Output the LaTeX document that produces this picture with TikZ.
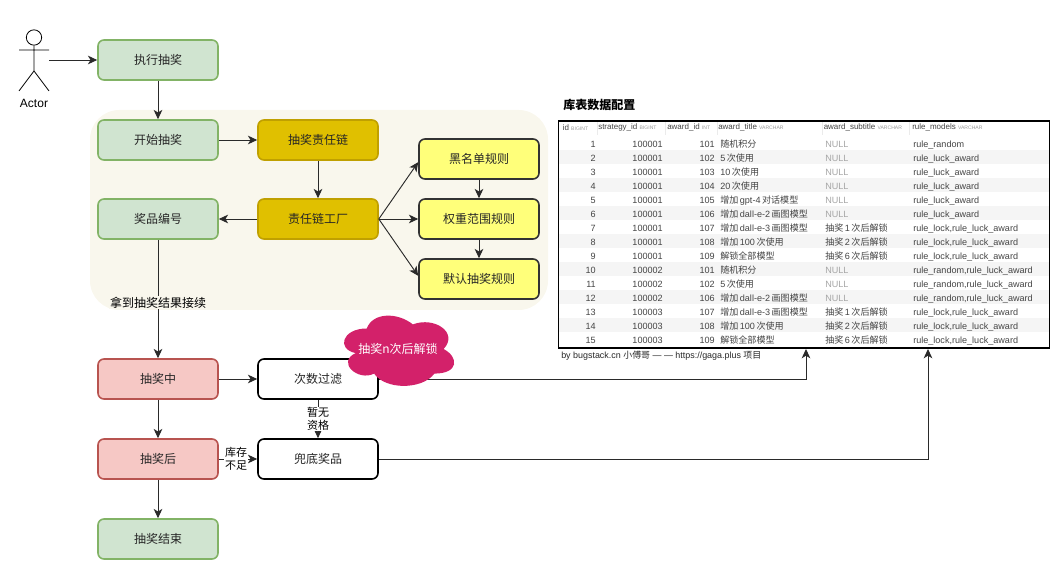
\documentclass[tikz,border=0pt]{standalone}
\usepackage{fontspec}
\setmainfont{Liberation Sans}
\newfontfamily\cjk{Noto Sans CJK SC}
\usetikzlibrary{arrows.meta}
\definecolor{greenfill}{HTML}{D0E4D0}
\definecolor{greenline}{HTML}{82B366}
\definecolor{redfill}{HTML}{F6C8C5}
\definecolor{redline}{HTML}{B85450}
\definecolor{goldfill}{HTML}{E0C000}
\definecolor{goldline}{HTML}{C0A000}
\definecolor{rulefill}{HTML}{FFFF7A}
\definecolor{ruleline}{HTML}{333333}
\definecolor{panelfill}{HTML}{F9F7ED}
\definecolor{cloudfill}{HTML}{D3216A}
\definecolor{rowfill}{HTML}{F5F5F5}
\definecolor{celltext}{HTML}{444444}
\definecolor{linegray}{HTML}{2A2A2A}
\newcommand{\zh}[1]{{\cjk #1}}
\newcommand{\luck}{rule\_luck\_award}
\newcommand{\lockluck}{rule\_lock,rule\_luck\_award}
\newcommand{\randluck}{rule\_random,rule\_luck\_award}
\newcommand{\nullcell}{{\color{black!35}NULL}}
\newcommand{\headcell}[2]{#1 {\fontsize{3.8}{4}\selectfont\color{black!40}#2}}
\begin{document}
\begin{tikzpicture}[
  x=.75pt, y=-.75pt,
  font=\cjk\fontsize{9}{11}\selectfont,
  box/.style={draw, rounded corners=4.5pt, line width=1.2pt, minimum width=90pt, minimum height=30pt, inner sep=0pt, text=black!85},
  greenbox/.style={box, draw=greenline, fill=greenfill},
  redbox/.style={box, draw=redline, fill=redfill},
  goldbox/.style={box, draw=goldline, fill=goldfill},
  rulebox/.style={box, draw=ruleline, fill=rulefill},
  plainbox/.style={box, fill=white},
  flow/.style={-{Stealth[length=7pt,width=6.5pt,inset=2pt]}, line width=.7pt, draw=linegray},
  edgetext/.style={fill=white, inner sep=.5pt, font=\cjk\fontsize{8.25}{10}\selectfont, align=center},
  cell/.style={inner sep=0pt, text=celltext, text height=5pt, text depth=1.5pt, font=\fontsize{6.8}{8}\selectfont},
  headtext/.style={inner sep=0pt, anchor=west, text=celltext, font=\fontsize{6}{7}\selectfont}]
  \useasboundingbox (0,0) rectangle (1058,573);
  \fill[panelfill, rounded corners=22pt] (90,110) rectangle (548,310);

  % actor
  \node (actorhead) [circle, draw, line width=.6pt, minimum size=11.5pt, inner sep=0pt] at (34,37.5) {};
  \coordinate (actorhip) at (34,71);
  \coordinate (actorleft) at (19,50);
  \coordinate (actorright) at (49,50);
  \coordinate (actorhand) at (49,60);
  \coordinate (actorfoot1) at (19,91);
  \coordinate (actorfoot2) at (49,91);
  \draw[line width=.6pt] (actorhead) -- (actorhip) (actorleft) -- (actorright) (actorfoot1) -- (actorhip) -- (actorfoot2);
  \node (actor) [font=\fontsize{9}{10}\selectfont, inner sep=0pt] at (34,103) {Actor};

  % left column
  \node (run) [greenbox] at (158,60) {执行抽奖};
  \node (start) [greenbox] at (158,140) {开始抽奖};
  \node (awardno) [greenbox] at (158,219) {奖品编号};
  \node (during) [redbox] at (158,379) {抽奖中};
  \node (after) [redbox] at (158,459) {抽奖后};
  \node (finish) [greenbox] at (158,539) {抽奖结束};

  % chain
  \node (chain) [goldbox] at (318,140) {抽奖责任链};
  \node (factory) [goldbox] at (318,219) {责任链工厂};
  \node (black) [rulebox] at (479,159) {黑名单规则};
  \node (weight) [rulebox] at (479,219) {权重范围规则};
  \node (default) [rulebox] at (479,279) {默认抽奖规则};

  % filters
  \node (filter) [plainbox] at (318,379) {次数过滤};
  \node (fallback) [plainbox] at (318,459) {兜底奖品};

  % table
  \node (tabletitle) [anchor=west, inner sep=0pt, font=\cjk\bfseries\fontsize{9}{11}\selectfont] at (563,105) {库表数据配置};
  \foreach \rowno in {2,4,...,14}
    \fill[rowfill] (559,122.5+14*\rowno) rectangle (1049,136.5+14*\rowno);
  \foreach \sepx in {597,665,717,822,909}
    \draw[black!8, line width=.4pt] (\sepx,121) -- (\sepx,135);
  \node (hid) [headtext] at (562.5,127.5) {\headcell{id}{BIGINT}};
  \node (hstrategy) [headtext] at (598,127.5) {\headcell{strategy\_id}{BIGINT}};
  \node (haward) [headtext] at (667,127.5) {\headcell{award\_id}{INT}};
  \node (htitle) [headtext] at (718,127.5) {\headcell{award\_title}{VARCHAR}};
  \node (hsub) [headtext] at (823.5,127.5) {\headcell{award\_subtitle}{VARCHAR}};
  \node (hmodels) [headtext] at (912,127.5) {\headcell{rule\_models}{VARCHAR}};
  \foreach \rowno/\strategy/\award/\atitle/\asub/\models in {
    1/100001/101/\zh{随机积分}/\nullcell/rule\_random,
    2/100001/102/5\,\zh{次使用}/\nullcell/\luck,
    3/100001/103/10\,\zh{次使用}/\nullcell/\luck,
    4/100001/104/20\,\zh{次使用}/\nullcell/\luck,
    5/100001/105/\zh{增加}\,gpt-4\,\zh{对话模型}/\nullcell/\luck,
    6/100001/106/\zh{增加}\,dall-e-2\,\zh{画图模型}/\nullcell/\luck,
    7/100001/107/\zh{增加}\,dall-e-3\,\zh{画图模型}/\zh{抽奖}\,1\,\zh{次后解锁}/\lockluck,
    8/100001/108/\zh{增加}\,100\,\zh{次使用}/\zh{抽奖}\,2\,\zh{次后解锁}/\lockluck,
    9/100001/109/\zh{解锁全部模型}/\zh{抽奖}\,6\,\zh{次后解锁}/\lockluck,
    10/100002/101/\zh{随机积分}/\nullcell/\randluck,
    11/100002/102/5\,\zh{次使用}/\nullcell/\randluck,
    12/100002/106/\zh{增加}\,dall-e-2\,\zh{画图模型}/\nullcell/\randluck,
    13/100003/107/\zh{增加}\,dall-e-3\,\zh{画图模型}/\zh{抽奖}\,1\,\zh{次后解锁}/\lockluck,
    14/100003/108/\zh{增加}\,100\,\zh{次使用}/\zh{抽奖}\,2\,\zh{次后解锁}/\lockluck,
    15/100003/109/\zh{解锁全部模型}/\zh{抽奖}\,6\,\zh{次后解锁}/\lockluck} {
    \node (id\rowno) [cell, anchor=east] at (596,131+14*\rowno) {\rowno};
    \node (strategy\rowno) [cell, anchor=east] at (663,131+14*\rowno) {\strategy};
    \node (award\rowno) [cell, anchor=east] at (715,131+14*\rowno) {\award};
    \node (title\rowno) [cell, anchor=west] at (720,131+14*\rowno) {\atitle};
    \node (sub\rowno) [cell, anchor=west] at (825,131+14*\rowno) {\asub};
    \node (models\rowno) [cell, anchor=west] at (913,131+14*\rowno) {\models};
  }
  \node (dbtable) [draw, line width=1.4pt, minimum width=368.25pt, minimum height=170.25pt, inner sep=0pt] at (804,234.5) {};
  \node (credit) [anchor=west, inner sep=0pt, text=black!85, font=\fontsize{6.7}{8}\selectfont] at (561,356) {by bugstack.cn \zh{小傅哥} — — https://gaga.plus \zh{项目}};
  \coordinate (tablein1) at (806,349);
  \coordinate (tablein2) at (928,349);

  % connectors
  \draw[flow] (actorhand) -- (run);
  \draw[flow] (run) -- (start);
  \draw[flow] (start) -- (chain);
  \draw[flow] (chain) -- (factory);
  \draw[flow] (factory) -- (awardno);
  \draw[flow] (factory.east) -- (black.183);
  \draw[flow] (factory.east) -- (weight.west);
  \draw[flow] (factory.east) -- (default.177);
  \draw[flow] (black) -- (weight);
  \draw[flow] (weight) -- (default);
  \draw[flow] (awardno) -- node (carryon) [pos=.53, fill=panelfill, inner sep=.5pt, font=\cjk\fontsize{9}{10}\selectfont] {拿到抽奖结果接续} (during);
  \draw[flow] (during) -- (filter);
  \draw[flow] (during) -- (after);
  \draw[flow] (after) -- (finish);
  \draw[flow] (after) -- node (stock) [pos=.45, edgetext] {库存\\不足} (fallback);
  \draw[flow] (filter) -- node (none) [edgetext] {暂无\\资格} (fallback);
  \draw[flow] (filter.east) -| (tablein1);
  \draw[flow] (fallback.east) -| (tablein2);

  % cloud
  \begin{scope}[shift={(336,308)}, x=92.25pt, y=-61.5pt]
    \fill[cloudfill] (.25,.25) .. controls (.05,.25) and (0,.5) .. (.16,.55)
      .. controls (0,.66) and (.18,.9) .. (.31,.8)
      .. controls (.4,1) and (.7,1) .. (.8,.8)
      .. controls (1,.8) and (1,.6) .. (.875,.5)
      .. controls (1,.3) and (.8,.1) .. (.625,.2)
      .. controls (.5,.05) and (.3,.05) .. (.25,.25);
  \end{scope}
  \node (unlock) [text=white, inner sep=0pt, font=\cjk\fontsize{9}{10}\selectfont] at (398,349) {抽奖n次后解锁};
\end{tikzpicture}
\end{document}
